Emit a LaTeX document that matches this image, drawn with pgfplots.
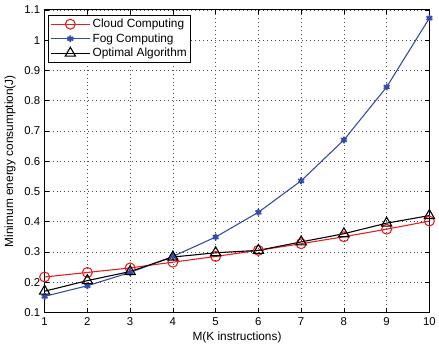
\documentclass[border=0pt]{standalone}
\usepackage{pgfplots}
\pgfplotsset{compat=1.18}
\usepackage{fontspec}
\setmainfont{Liberation Sans}
\definecolor{fogblue}{RGB}{55,75,170}
\definecolor{cloudred}{RGB}{230,30,30}
\begin{document}
\begin{tikzpicture}[x=1bp,y=1bp]
\begin{axis}[
  scale only axis,
  width=388bp, height=305bp,
  xmin=1, xmax=10, ymin=0.1, ymax=1.1,
  xtick={1,...,10},
  ytick={0.1,0.2,0.3,0.4,0.5,0.6,0.7,0.8,0.9,1,1.1},
  yticklabels={0.1,0.2,0.3,0.4,0.5,0.6,0.7,0.8,0.9,1,1.1},
  tick align=inside,
  xtick pos=both, ytick pos=both,
  major tick length=4bp,
  grid=major,
  major grid style={dash pattern=on 0.8bp off 3.2bp, black!70, line width=0.6pt},
  axis line style={line width=0.9pt},
  tick style={black, line width=0.6pt},
  ticklabel style={font=\fontsize{11.5}{13}\selectfont},
  xticklabel style={yshift=-2bp},
  yticklabel style={xshift=-1bp},
  /pgf/number format/assume math mode=true,
  xlabel={M(K instructions)},
  ylabel={Minimum energy consumption(J)},
  label style={font=\fontsize{12}{14}\selectfont},
  xlabel style={yshift=1bp},
  ylabel style={yshift=2bp},
  legend style={at={(0.008,0.984)}, anchor=north west, draw=black, line width=0.9pt,
    font=\fontsize{12}{14}\selectfont, inner sep=2pt, row sep=0.5pt},
  legend image post style={line width=1.1pt},
  legend image code/.code={\draw[mark repeat=2,mark phase=2] plot coordinates {(0cm,0cm) (0.7cm,0cm) (1.4cm,0cm)};},
  legend cell align=left,
]
\addplot[cloudred, line width=1.1pt, mark=o, mark size=5bp, mark options={solid, line width=1.1pt}]
 coordinates {(1,0.217) (2,0.232) (3,0.247) (4,0.266) (5,0.285) (6,0.305) (7,0.327) (8,0.350) (9,0.375) (10,0.402)};
\addlegendentry{Cloud Computing}
\addplot[fogblue, line width=1.1pt, mark=asterisk, mark size=3.4bp, mark options={solid, line width=1.8pt}]
 coordinates {(1,0.153) (2,0.188) (3,0.232) (4,0.285) (5,0.349) (6,0.431) (7,0.535) (8,0.670) (9,0.845) (10,1.073)};
\addlegendentry{Fog Computing}
\addplot[black, line width=1.1pt, mark=triangle, mark size=6bp, mark options={solid, line width=1.1pt}]
 coordinates {(1,0.170) (2,0.205) (3,0.235) (4,0.283) (5,0.297) (6,0.305) (7,0.333) (8,0.360) (9,0.395) (10,0.420)};
\addlegendentry{Optimal Algorithm}
\end{axis}
\path ([xshift=-45bp,yshift=-33bp]current axis.south west) rectangle ([xshift=6bp,yshift=10bp]current axis.north east);
\end{tikzpicture}
\end{document}
